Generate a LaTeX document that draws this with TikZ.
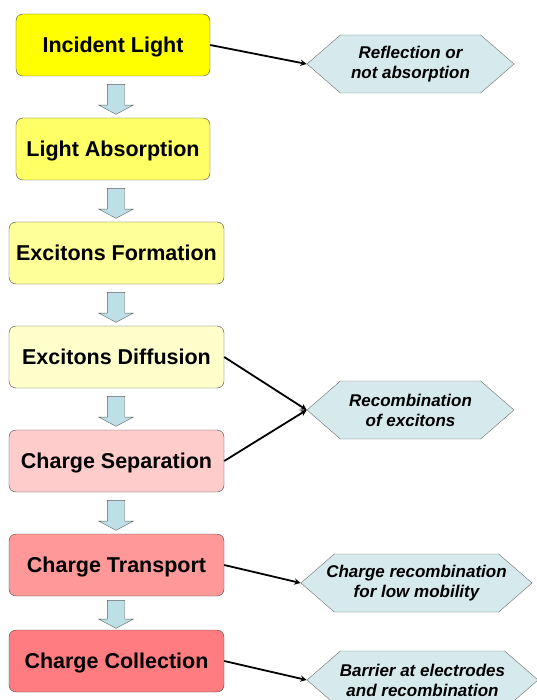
\documentclass[tikz,border=0pt]{standalone}
\usepackage{fontspec}
\setmainfont{Liberation Sans}
\usetikzlibrary{shapes.symbols,shapes.arrows}
\definecolor{boxline}{RGB}{70,70,70}
\definecolor{hexline}{RGB}{110,110,110}
\definecolor{hexfill}{RGB}{214,234,238}
\definecolor{arrowfill}{RGB}{188,224,230}
\definecolor{arrowline}{RGB}{95,95,95}
\definecolor{yellowA}{RGB}{255,255,0}
\definecolor{yellowB}{RGB}{255,255,102}
\definecolor{yellowC}{RGB}{255,255,153}
\definecolor{yellowD}{RGB}{255,255,204}
\definecolor{redA}{RGB}{255,204,204}
\definecolor{redB}{RGB}{255,153,153}
\definecolor{redC}{RGB}{255,124,128}

\begin{document}
\begin{tikzpicture}[x=1pt, y=-1pt, >=stealth,
  stage/.style={draw=boxline, rounded corners=7pt, minimum width=215pt, minimum height=62pt, inner sep=0pt,
    text height=15.5pt, text depth=0pt, font=\fontsize{21.5}{24}\selectfont\bfseries},
  loss/.style={signal, signal to=west and east, signal pointer angle=82, draw=hexline, fill=hexfill,
    minimum height=58pt, inner sep=0pt, align=center, font=\fontsize{17}{20}\selectfont\bfseries\itshape},
  down/.style={single arrow, shape border rotate=270, draw=arrowline, fill=arrowfill, inner sep=0pt,
    text width=17pt, text height=17pt, text depth=0pt,
    minimum width=34pt, minimum height=30pt, single arrow head extend=8.5pt, single arrow tip angle=124},
  link/.style={->, line width=1.8pt}]
\useasboundingbox (0,0) rectangle (536,700);

% stages of the process
\node[stage, fill=yellowA, minimum width=194pt] (b1) at (113,45) {Incident Light};
\node[stage, fill=yellowB, minimum width=194pt] (b2) at (113,149) {Light Absorption};
\node[stage, fill=yellowC] (b3) at (116.5,253) {Excitons Formation};
\node[stage, fill=yellowD] (b4) at (116.5,357) {Excitons Diffusion};
\node[stage, fill=redA] (b5) at (116.5,461) {Charge Separation};
\node[stage, fill=redB] (b6) at (116.5,565) {Charge Transport};
\node[stage, fill=redC] (b7) at (116.5,661) {Charge Collection};

% block arrows between stages
\foreach \i/\y in {1/97,2/201,3/305,4/409,5/513}
{
    \node[down] (a\i) at (116,\y) {};
}
\node[down, minimum height=28pt] (a6) at (116,612) {};

% losses
\node[loss, minimum width=207pt] (h1) at (410.5,64) {Reflection or\\not absorption};
\node[loss, minimum width=207pt] (h2) at (410.5,410) {Recombination\\of excitons};
\node[loss, inner xsep=-8pt, minimum width=231pt] (h3) at (416.5,583) {Charge recombination\\for low mobility};
\node[loss, inner xsep=-8pt, minimum width=231pt] (h4) at (422.5,680) {Barrier at electrodes\\and recombination};

\draw[link] (b1.east)--(h1.west);
\draw[link] (b4.east)--(h2.west);
\draw[link] (b5.east)--(h2.west);
\draw[link] (b6.east)--(h3.west);
\draw[link] (b7.east)--(h4.west);

\end{tikzpicture}
\end{document}
